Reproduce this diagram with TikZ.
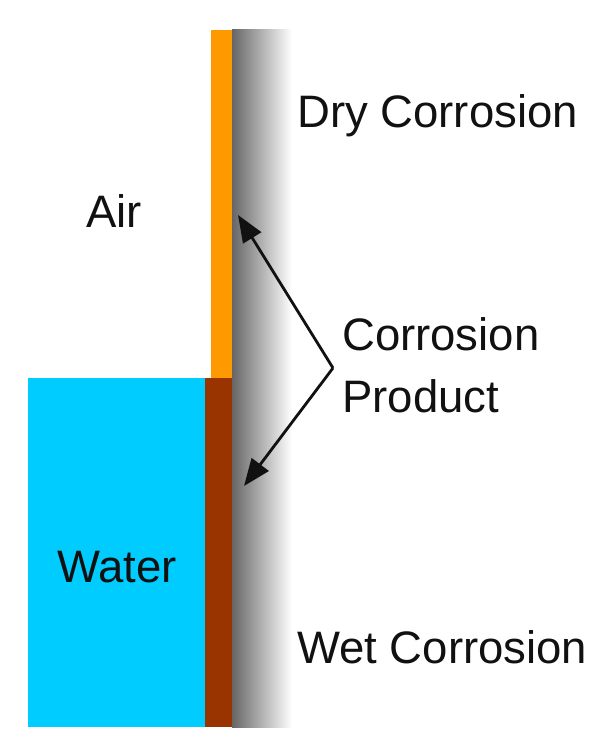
\documentclass[tikz,border=0pt]{standalone}
\usepackage{fontspec}
\setmainfont{Liberation Sans}
\usetikzlibrary{positioning,arrows.meta}
\definecolor{cwater}{HTML}{00CCFF}
\definecolor{crust}{HTML}{993300}
\definecolor{cdry}{HTML}{FF9900}
\definecolor{cmetal}{HTML}{666666}
\definecolor{ctext}{HTML}{111111}
\tikzset{
  txt/.style={inner sep=0pt, text=ctext, font=\fontsize{45.5}{62}\selectfont},
  pointer/.style={-{Triangle[length=27pt,width=21pt]}, line width=2.8pt, color=ctext}
}

\begin{document}
\begin{tikzpicture}[x=1pt, y=-1pt]
  \useasboundingbox (0,0) rectangle (598,752);

  % metal wall, water and the two corrosion layers
  \shade[left color=cmetal, right color=white] (232,30) rectangle (292,727);
  \fill[cwater] (28,378) rectangle (205,727);
  \fill[crust] (205,378) rectangle (232,727);
  \fill[cdry] (211,30) rectangle (232,378);

  \node[txt, anchor=base west] (air) at (86,227) {Air};
  \node[txt, anchor=base west] (water) at (57,582) {Water};
  \node[txt, anchor=base west] (dry) at (297,127) {Dry Corrosion};
  \node[txt, anchor=base west] (wet) at (297,663) {Wet Corrosion};
  \node[txt, anchor=west, align=left] (prod) at (342,365) {Corrosion\\Product};

  \coordinate (apex) at ([xshift=-9pt,yshift=-3pt]prod.west);
  \coordinate (hitdry) at (238,215);
  \coordinate (hitwet) at (244,486);

  \draw[pointer] (apex) -- (hitdry);
  \draw[pointer] (apex) -- (hitwet);
\end{tikzpicture}
\end{document}
